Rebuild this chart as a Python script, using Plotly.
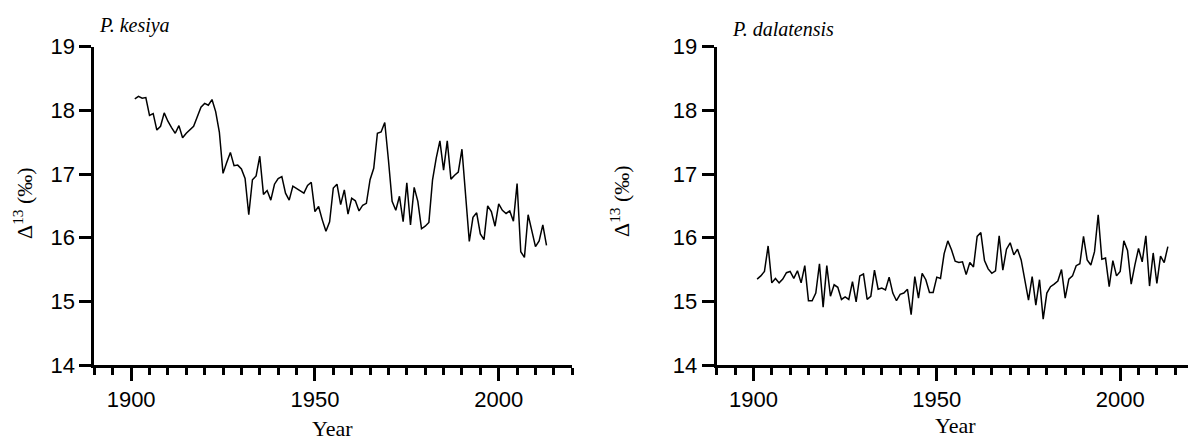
import plotly.graph_objects as go

years = list(range(1901, 2014))

kesiya = [
    18.18, 18.22, 18.19, 18.20, 17.92, 17.95, 17.69, 17.75, 17.96, 17.83,
    17.73, 17.64, 17.76, 17.57, 17.64, 17.70, 17.75, 17.90, 18.05, 18.11,
    18.08, 18.17, 17.98, 17.66, 17.01, 17.18, 17.34, 17.13, 17.14, 17.08,
    16.93, 16.36, 16.91, 16.97, 17.28, 16.68, 16.74, 16.59, 16.84, 16.93,
    16.96, 16.70, 16.59, 16.81, 16.77, 16.74, 16.70, 16.82, 16.87, 16.41,
    16.49, 16.28, 16.10, 16.25, 16.78, 16.84, 16.52, 16.75, 16.37, 16.62,
    16.58, 16.42, 16.51, 16.54, 16.91, 17.09, 17.64, 17.66, 17.81, 17.22,
    16.57, 16.43, 16.65, 16.25, 16.86, 16.20, 16.79, 16.57, 16.14, 16.18,
    16.24, 16.91, 17.25, 17.52, 17.06, 17.52, 16.92, 16.98, 17.03, 17.39,
    16.67, 15.94, 16.32, 16.39, 16.06, 15.97, 16.50, 16.41, 16.18, 16.53,
    16.43, 16.38, 16.42, 16.26, 16.85, 15.78, 15.69, 16.36, 16.11, 15.86,
    15.95, 16.20, 15.88,
]

dalatensis = [
    15.35, 15.40, 15.47, 15.87, 15.29, 15.36, 15.29, 15.35, 15.45, 15.47,
    15.36, 15.48, 15.29, 15.56, 15.01, 15.01, 15.13, 15.59, 14.91, 15.56,
    15.08, 15.26, 15.22, 15.03, 15.07, 15.03, 15.31, 14.99, 15.40, 15.43,
    15.03, 15.08, 15.49, 15.19, 15.21, 15.18, 15.38, 15.13, 15.01, 15.11,
    15.13, 15.19, 14.79, 15.39, 15.05, 15.44, 15.34, 15.14, 15.14, 15.38,
    15.36, 15.75, 15.95, 15.81, 15.63, 15.61, 15.62, 15.42, 15.61, 15.54,
    16.02, 16.08, 15.64, 15.51, 15.44, 15.48, 16.03, 15.49, 15.82, 15.92,
    15.73, 15.82, 15.65, 15.36, 15.02, 15.39, 14.94, 15.34, 14.72, 15.13,
    15.23, 15.27, 15.32, 15.50, 15.05, 15.35, 15.40, 15.56, 15.59, 16.02,
    15.65, 15.57, 15.78, 16.36, 15.66, 15.68, 15.23, 15.64, 15.40, 15.47,
    15.95, 15.80, 15.27, 15.57, 15.83, 15.62, 16.03, 15.24, 15.76, 15.28,
    15.71, 15.61, 15.86,
]

panel_titles = ["P. kesiya", "P. dalatensis"]
x_title = "Year"
y_title = "Δ<sup>13</sup> (‰)"
y_ticks = [14, 15, 16, 17, 18, 19]
x_ticks = [1900, 1950, 2000]

W, H = 1188, 443

def px(x):
    return x / W

def py(y):
    return 1 - y / H

fig = go.Figure()
fig.add_trace(go.Scatter(x=years, y=kesiya, mode="lines",
                         line=dict(color="black", width=1.5),
                         xaxis="x", yaxis="y", showlegend=False))
fig.add_trace(go.Scatter(x=years, y=dalatensis, mode="lines",
                         line=dict(color="black", width=1.5),
                         xaxis="x2", yaxis="y2", showlegend=False))

tick_font = dict(family="Liberation Sans, Arial, sans-serif", size=22, color="black")

def xax(domain, rng, anchor):
    return dict(domain=domain, range=rng, anchor=anchor, automargin=False,
                showgrid=False, zeroline=False,
                showline=True, linecolor="black", linewidth=3,
                ticks="outside", ticklen=13, tickwidth=3, tickcolor="black",
                tickmode="array", tickvals=x_ticks, ticktext=[str(v) for v in x_ticks],
                minor=dict(dtick=5, tick0=1890, ticks="outside", ticklen=7,
                           tickwidth=3, tickcolor="black", showgrid=False),
                tickfont=tick_font)

def yax(domain, anchor):
    return dict(domain=domain, range=[14, 19], anchor=anchor, automargin=False,
                showgrid=False, zeroline=False,
                showline=True, linecolor="black", linewidth=3,
                ticks="outside", ticklen=12, tickwidth=3, tickcolor="black",
                tickmode="array", tickvals=y_ticks, ticktext=[str(v) for v in y_ticks],
                tickfont=tick_font)

ydom = [py(365), py(46.7)]
fig.update_layout(
    width=W, height=H,
    margin=dict(l=0, r=0, t=0, b=0, autoexpand=False),
    paper_bgcolor="white", plot_bgcolor="white",
    xaxis=xax([px(94.3), px(572.3)], [1889.98, 2020.02], "y"),
    yaxis=yax(ydom, "x"),
    xaxis2=xax([px(716.7), 1.0], [1889.98, 1890 + (W - 716.7) / 3.668], "y2"),
    yaxis2=yax(ydom, "x2"),
)

serif = "Liberation Serif, Times New Roman, serif"
ann = [
    dict(text=panel_titles[0], x=px(97), y=py(25), xanchor="left", yanchor="middle",
         font=dict(family=serif, size=20, color="black", style="italic")),
    dict(text=panel_titles[1], x=px(730), y=py(29), xanchor="left", yanchor="middle",
         font=dict(family=serif, size=20, color="black", style="italic")),
    dict(text=x_title, x=px(333), y=0, xanchor="center", yanchor="bottom",
         font=dict(family=serif, size=22, color="black")),
    dict(text=x_title, x=px(955), y=py(440), xanchor="center", yanchor="bottom",
         font=dict(family=serif, size=22, color="black")),
    dict(text=y_title, x=px(23), y=py(203), xanchor="center", yanchor="middle",
         textangle=-90, font=dict(family=serif, size=22, color="black")),
    dict(text=y_title, x=px(620), y=py(201), xanchor="center", yanchor="middle",
         textangle=-90, font=dict(family=serif, size=22, color="black")),
]
for a in ann:
    a.update(xref="paper", yref="paper", showarrow=False)
fig.update_layout(annotations=ann)

fig.write_html(
    "out.html",
    config={"displayModeBar": False},
    post_script="document.body.style.margin='0';document.body.style.overflow='hidden';",
)
